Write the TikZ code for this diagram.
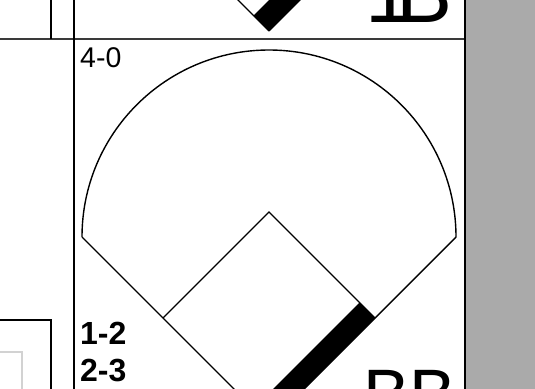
\documentclass[tikz,border=0pt]{standalone}
\usepackage{fontspec}
\setmainfont{Liberation Sans}
\definecolor{panelgray}{HTML}{AAAAAA}
\definecolor{rulegray}{HTML}{3A3A3A}
\definecolor{lightbox}{HTML}{D2D2D2}
\begin{document}
\begin{tikzpicture}[x=1pt,y=-1pt,
  fieldline/.style={line width=1.4pt,black},
  gridline/.style={line width=2pt,black},
  txt/.style={inner sep=0pt,anchor=base west},
  bandfill/.style={fill=black,draw=none}]
\useasboundingbox (0,0) rectangle (535,388);
\begin{scope}
\clip (0,0) rectangle (535,388);
% right gray panel
\fill[panelgray] (465,0) rectangle (536,389);
% named points of the main field
\coordinate (home) at (269,424);
\coordinate (first) at (375,318);
\coordinate (second) at (269,212);
\coordinate (third) at (163,318);
\coordinate (lfoul) at (82,237);
\coordinate (rfoul) at (456,237);
% band along first-base line
\fill[bandfill] (first) -- ++(-15.5,-15.5) -- ++(-140,140) -- ++(15.5,15.5) -- cycle;
% outfield arc and foul lines
\draw[fieldline] (lfoul) arc[start angle=180,end angle=360,radius=187];
\draw[fieldline] (lfoul) -- (home) -- (rfoul);
\draw[fieldline,line width=1.3pt] (third) -- (second) -- (first);
% top cell diamond bottom
\coordinate (tophome) at (269,31);
\fill[bandfill] (tophome) -- ++(-15.5,-15.5) -- ++(40,-40) -- ++(15.5,15.5) -- cycle;
\draw[fieldline,line width=1.3pt] (tophome) -- ++(-45,-45);
\draw[fieldline,line width=1.3pt] (tophome) -- ++(45,-45);
% grid lines
\coordinate (hl) at (0,39);
\coordinate (hr) at (465,39);
\draw[line width=2.5pt,rulegray] (hl) -- (hr);
\coordinate (vtop) at (74,0);
\coordinate (vbot) at (74,389);
\draw[gridline] (vtop) -- (vbot);
\coordinate (v2top) at (51,-1);
\coordinate (v2bot) at (51,39);
\draw[gridline] (v2top) -- (v2bot);
\coordinate (pr) at (465,-1);
\coordinate (prb) at (465,389);
\draw[gridline] (pr) -- (prb);
% bottom-left boxes
\draw[line width=1.6pt,black] (-2,320) -- (51,320) -- (51,390);
\draw[line width=1.6pt,lightbox] (-2,352) -- (22,352) -- (22,390);
% texts
\node[txt,font=\fontsize{28.5}{28.5}\selectfont] (count) at (80,67) {4-0};
\node[txt,font=\fontsize{32}{32}\selectfont\bfseries] (c1) at (80,344) {1-2};
\node[txt,font=\fontsize{32}{32}\selectfont\bfseries] (c2) at (80,381) {2-3};
\node[txt,font=\fontsize{70}{70}\selectfont] (bb) at (363,418) {BB};
\node[txt,font=\fontsize{84}{84}\selectfont] (oneb) at (365,23) {1\kern-15pt B};
\end{scope}
\end{tikzpicture}
\end{document}
